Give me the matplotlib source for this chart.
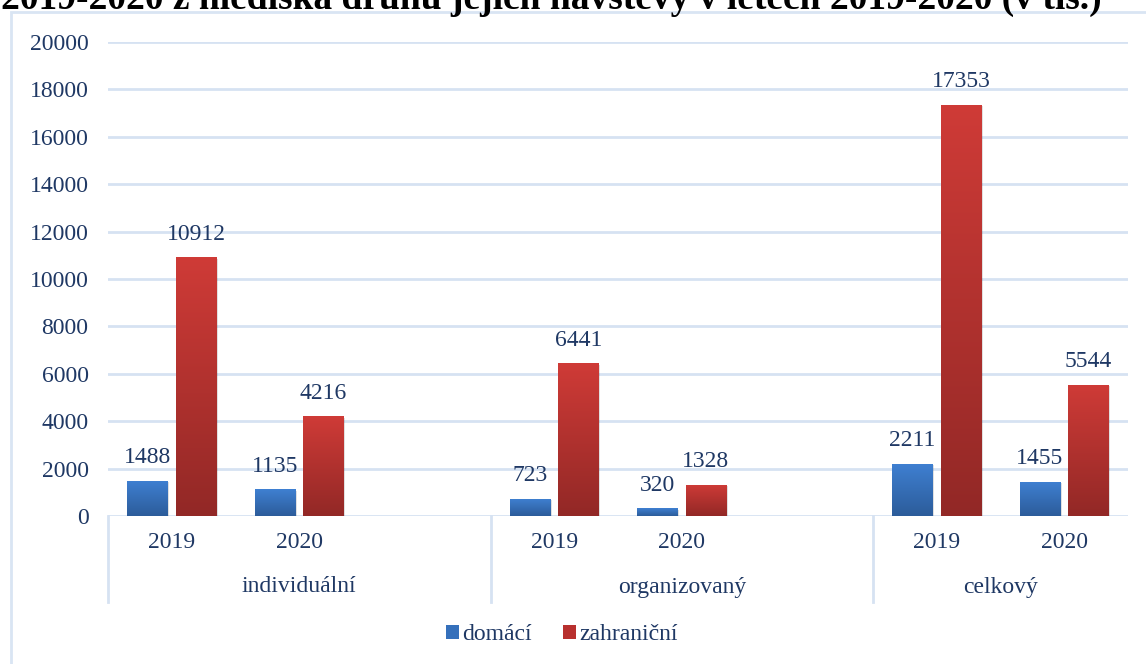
import matplotlib
matplotlib.use("Agg")
import matplotlib.pyplot as plt
import numpy as np
from matplotlib.patches import Rectangle, Patch
from matplotlib.colors import LinearSegmentedColormap
import matplotlib.transforms as mtransforms

plt.rcParams['font.family'] = ['Liberation Serif', 'DejaVu Serif']

groups = ["individuální", "organizovaný", "celkový"]
years = ["2019", "2020"]
series = ["domácí", "zahraniční"]
domaci = [1488, 1135, 723, 320, 2211, 1455]
zahranicni = [10912, 4216, 6441, 1328, 17353, 5544]
yticks = [0, 2000, 4000, 6000, 8000, 10000, 12000, 14000, 16000, 18000, 20000]
title = "2019-2020 z hlediska druhu jejich návštěvy v letech 2019-2020 (v tis.)"

W, H = 1146, 664
fig = plt.figure(figsize=(W / 100, H / 100), dpi=100)
txt_col = "#1f3864"
grid_col = "#d6e2f2"

# chart border (bottom and right outside the image)
fig.patches.append(Rectangle((10.5 / W, -0.1), 1.2, (H - 12) / H + 0.1, transform=fig.transFigure,
                             fill=False, edgecolor="#d9e5f3", linewidth=2))

ax = fig.add_axes([108 / W, (H - 516) / H, (1128 - 108) / W, 474 / H])
slots = [0, 1, 3, 4, 6, 7]
for s in ax.spines.values():
    s.set_visible(False)
ax.set_yticks(yticks)
ax.set_yticklabels([str(v) for v in yticks], fontsize=17, color=txt_col)
ax.tick_params(axis='y', length=0, pad=14)
ax.set_xticks([])
ax.grid(axis='y', color=grid_col, linewidth=2)
ax.set_axisbelow(True)

bw = 0.32
off = 0.19
grad_blue = LinearSegmentedColormap.from_list("b", ["#2c5c9a", "#3f80d2"])
grad_red = LinearSegmentedColormap.from_list("r", ["#922826", "#cf3b37"])
grad = np.linspace(0, 1, 256).reshape(-1, 1)


def gbar(x, h, cmap):
    r = ax.bar(x, h, width=bw, color="none", edgecolor="none", zorder=3)[0]
    ax.bar(x + 0.012, h, width=bw, bottom=-60, color="#000000", alpha=0.12, zorder=2)
    im = ax.imshow(grad, cmap=cmap, extent=[x - bw / 2, x + bw / 2, 0, h],
                   aspect='auto', origin='lower', zorder=3)
    im.set_clip_path(r)
    ax.text(x, h + 530, str(h), ha='center', va='bottom', fontsize=17, color=txt_col, zorder=4)


for i, sl in enumerate(slots):
    gbar(sl - off, domaci[i], grad_blue)
    gbar(sl + off, zahranicni[i], grad_red)

ax.set_xlim(-0.5, 7.5)
ax.set_ylim(0, 20000)

tr = mtransforms.blended_transform_factory(ax.transData, fig.transFigure)
for xb in [-0.5, 2.5, 5.5]:
    ax.plot([xb, xb], [(H - 516) / H, (H - 602) / H], transform=tr, color=grid_col,
            linewidth=2, clip_on=False)
for i, sl in enumerate(slots):
    ax.text(sl, (H - 543) / H, years[i % 2], transform=tr, ha='center', va='center',
            fontsize=17, color=txt_col)
for g, c in zip(groups, [1, 4, 6.5]):
    ax.text(c, (H - 587) / H, g, transform=tr, ha='center', va='center',
            fontsize=17, color=txt_col)

handles = [Patch(facecolor="#3570bb", edgecolor="none", label=series[0]),
           Patch(facecolor="#b8302e", edgecolor="none", label=series[1])]
fig.legend(handles=handles, loc='center', bbox_to_anchor=(562 / W, (H - 635) / H),
           ncol=2, frameon=False, fontsize=17, handlelength=0.55, handleheight=0.55,
           handletextpad=0.15, columnspacing=1.3, labelcolor=txt_col)

fig.text(551 / W, (H - 9) / H, title, ha='center', va='baseline', fontsize=27,
         fontweight='bold', color='black')

fig.savefig("out.png", dpi=100)
